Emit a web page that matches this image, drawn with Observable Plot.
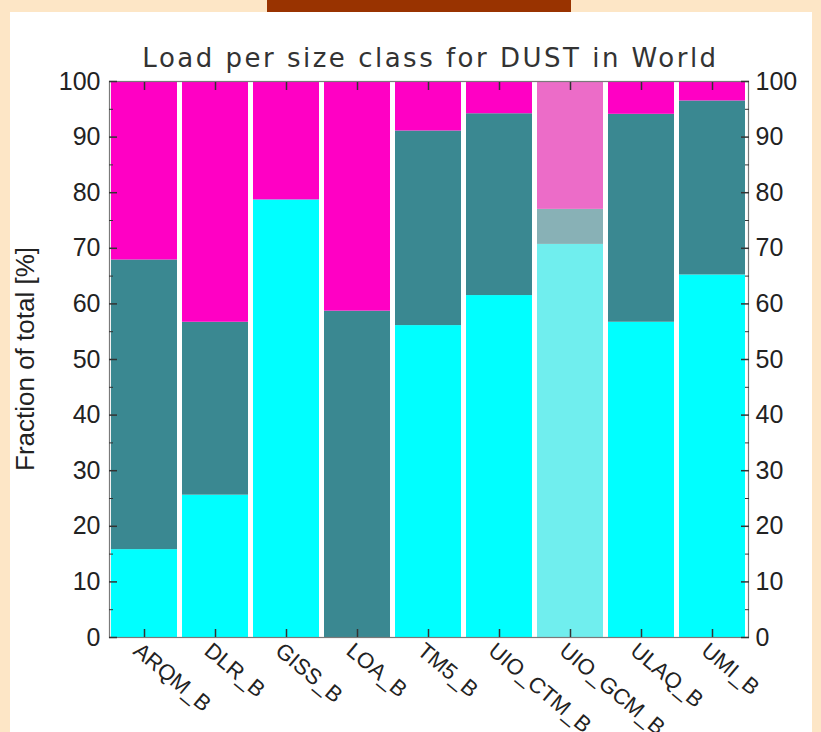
<!DOCTYPE html>
<html><head><meta charset="utf-8">
<script src="https://cdn.jsdelivr.net/npm/d3@7"></script>
<script src="https://cdn.jsdelivr.net/npm/@observablehq/plot@0.6"></script>
<style>
html,body{margin:0;padding:0;background:#fde6c6;width:821px;height:732px;overflow:hidden;}
#panel{position:absolute;left:10px;top:12px;width:802px;height:720px;background:#fff;}
#brand{position:absolute;left:267px;top:0;width:304px;height:12px;background:#993300;}
#title{position:absolute;left:20px;width:821px;top:43px;line-height:30px;text-align:center;font-family:"DejaVu Sans";font-size:26px;letter-spacing:2.5px;color:#333;white-space:nowrap;}
#ylab{position:absolute;left:25px;top:359px;transform:translate(-50%,-50%) rotate(-90deg);font-family:"Liberation Sans";font-size:26px;color:#222;white-space:nowrap;line-height:26px;}
#chart{position:absolute;left:0;top:0;}
</style></head><body>
<div id="panel"></div>
<div id="brand"></div>
<div id="title">Load per size class for DUST in World</div>
<div id="ylab">Fraction of total [%]</div>
<div id="chart"></div>
<script>
const models = ["ARQM_B","DLR_B","GISS_B","LOA_B","TM5_B","UIO_CTM_B","UIO_GCM_B","ULAQ_B","UMI_B"];
const fine        = [15.8, 25.6, 78.7,  0.0, 56.1, 61.5, 70.7, 56.7, 65.2];
const coarse      = [52.1, 31.1,  0.0, 58.7, 35.0, 32.7,  6.3, 37.4, 31.3];
const superCoarse = [32.1, 43.3, 21.3, 41.3,  8.9,  5.8, 23.0,  5.9,  3.5];
const sizeClasses = ["fine","coarse","superCoarse"];
const yMajorTicks = [0,10,20,30,40,50,60,70,80,90,100];
const yMinorTicks = [5,15,25,35,45,55,65,75,85,95];
const highlightedModel = "UIO_GCM_B";

const palette = {fine:"#00ffff", coarse:"#3a8891", superCoarse:"#ff00c4"};
const fadedPalette = {fine:"#70eeee", coarse:"#88b1b6", superCoarse:"#ec6cc8"};

const series = {fine, coarse, superCoarse};
const rows = models.flatMap((m, i) => sizeClasses.map(c => ({model: m, cls: c, value: series[c][i]})));

const tickColor = "#333";
const font = "Liberation Sans";

const chart = Plot.plot({
  width: 821,
  height: 732,
  marginLeft: 109,
  marginRight: 73,
  marginTop: 81,
  marginBottom: 95,
  style: {background: "transparent", fontFamily: font, color: "#222", overflow: "visible"},
  x: {domain: models, paddingInner: 0.065, paddingOuter: 0, label: null},
  y: {domain: [0, 100], label: null},
  marks: [
    Plot.barY(rows, {x: "model", y: "value", fill: d => (d.model === highlightedModel ? fadedPalette : palette)[d.cls]}),
    Plot.frame({stroke: "#7a7a7a", strokeWidth: 1.2}),
    Plot.axisY({anchor: "left", ticks: yMajorTicks, tickSize: -8, tickPadding: 17, fontSize: 25, stroke: tickColor, strokeWidth: 1.5, label: null, fill: "#222"}),
    Plot.axisY({anchor: "left", ticks: yMinorTicks, tickSize: -4, tickFormat: () => "", stroke: tickColor, label: null}),
    Plot.axisY({anchor: "right", ticks: yMajorTicks, tickSize: -8, tickPadding: 15, fontSize: 25, stroke: tickColor, strokeWidth: 1.5, label: null, fill: "#222"}),
    Plot.axisY({anchor: "right", ticks: yMinorTicks, tickSize: -4, tickFormat: () => "", stroke: tickColor, label: null}),
    Plot.axisX({anchor: "bottom", tickSize: -8, tickFormat: () => "", stroke: tickColor, strokeWidth: 1.5, label: null}),
    Plot.axisX({anchor: "top", tickSize: -8, tickFormat: () => "", stroke: tickColor, strokeWidth: 1.5, label: null}),
    Plot.axisX({anchor: "bottom", tickSize: 0, tickRotate: 40, tickPadding: 10, dx: -8, fontSize: 22, textAnchor: "start", label: null, fill: "#222"})
  ]
});
document.getElementById("chart").appendChild(chart);
</script>
</body></html>
